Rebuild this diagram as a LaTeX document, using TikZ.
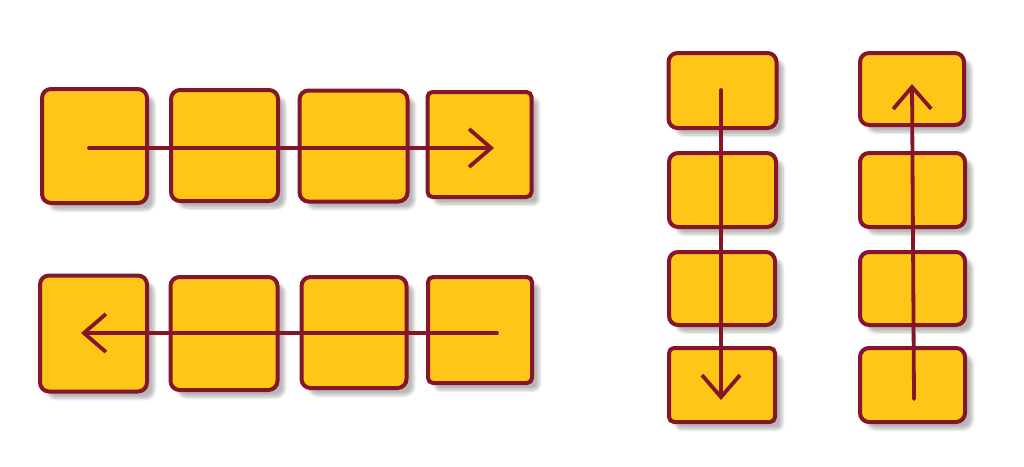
\documentclass[tikz,border=0pt]{standalone}
\usetikzlibrary{arrows.meta,shadows.blur}
\definecolor{boxfill}{HTML}{FFC517}
\definecolor{boxline}{HTML}{851529}
\tikzset{
  cell/.style={draw=boxline, fill=boxfill, line width=4pt, rounded corners=9pt,
    inner sep=0pt, outer sep=0pt,
    blur shadow={shadow xshift=7pt, shadow yshift=-7pt, shadow blur steps=6, shadow opacity=28, shadow blur radius=3pt}},
  flow/.style={draw=boxline, line width=3.8pt, line cap=round,
    -{Straight Barb[length=22pt,width=38pt,line width=3.8pt]}},
}
\begin{document}
\begin{tikzpicture}[x=1pt,y=-1pt]
\useasboundingbox (0,0) rectangle (1024,466);
% top row
\node[cell, minimum width=105pt, minimum height=114pt] (t1) at (94.5,146) {};
\node[cell, minimum width=107pt, minimum height=111pt] (t2) at (224.5,145.5) {};
\node[cell, minimum width=108pt, minimum height=111pt] (t3) at (353.5,146) {};
\node[cell, minimum width=104pt, minimum height=105pt, rounded corners=5pt] (t4) at (479.5,144.5) {};
% bottom row
\node[cell, minimum width=107pt, minimum height=116pt] (b1) at (93.5,333.5) {};
\node[cell, minimum width=107pt, minimum height=113pt] (b2) at (224,333.5) {};
\node[cell, minimum width=105pt, minimum height=111pt] (b3) at (354,332.5) {};
\node[cell, minimum width=104pt, minimum height=106pt, rounded corners=5pt] (b4) at (480,330) {};
% left column
\node[cell, minimum width=108pt, minimum height=75pt] (l1) at (722.5,90.5) {};
\node[cell, minimum width=107pt, minimum height=74pt] (l2) at (722.5,190) {};
\node[cell, minimum width=106pt, minimum height=73pt] (l3) at (722,288.5) {};
\node[cell, minimum width=106pt, minimum height=74pt, rounded corners=5pt] (l4) at (722,385) {};
% right column
\node[cell, minimum width=104pt, minimum height=72pt] (r1) at (912,89) {};
\node[cell, minimum width=105pt, minimum height=74pt] (r2) at (912.5,190) {};
\node[cell, minimum width=105pt, minimum height=73pt] (r3) at (912.5,288.5) {};
\node[cell, minimum width=105pt, minimum height=74pt] (r4) at (912.5,385) {};
% arrows
\coordinate (ts) at (89,148);
\coordinate (te) at (494,148);
\coordinate (bs) at (497,333);
\coordinate (be) at (81,333);
\coordinate (ls) at (721,90);
\coordinate (le) at (721,400);
\coordinate (rs) at (914,399);
\coordinate (re) at (912,84);
\draw[flow] (ts) -- (te);
\draw[flow] (bs) -- (be);
\draw[flow] (ls) -- (le);
\draw[flow] (rs) -- (re);
\end{tikzpicture}
\end{document}
